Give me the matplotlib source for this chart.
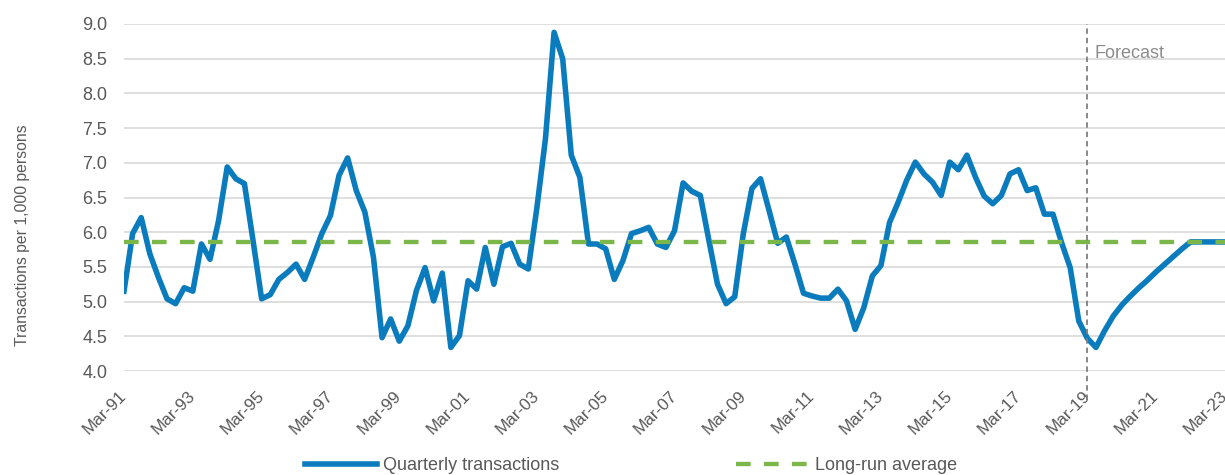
import numpy as np
import matplotlib
matplotlib.use("Agg")
import matplotlib.pyplot as plt

plt.rcParams['font.family'] = ['Liberation Sans', 'DejaVu Sans']

# quarterly transactions per 1,000 persons, Mar-91 .. Mar-23
transactions = [
    5.15, 5.98, 6.21, 5.69, 5.35, 5.04, 4.97, 5.20,
    5.15, 5.83, 5.61, 6.17, 6.94, 6.77, 6.70, 5.88,
    5.04, 5.10, 5.32, 5.42, 5.54, 5.32, 5.64, 5.98,
    6.24, 6.82, 7.07, 6.60, 6.29, 5.64, 4.48, 4.75,
    4.43, 4.65, 5.16, 5.49, 5.01, 5.41, 4.34, 4.51,
    5.30, 5.18, 5.78, 5.25, 5.79, 5.84, 5.54, 5.47,
    6.35, 7.35, 8.88, 8.50, 7.11, 6.79, 5.83, 5.83,
    5.76, 5.32, 5.59, 5.98, 6.02, 6.07, 5.83, 5.78,
    6.02, 6.71, 6.59, 6.53, 5.88, 5.25, 4.97, 5.07,
    5.98, 6.63, 6.77, 6.31, 5.84, 5.93, 5.54, 5.12,
    5.08, 5.05, 5.05, 5.18, 5.01, 4.60, 4.91, 5.37,
    5.52, 6.14, 6.43, 6.75, 7.01, 6.84, 6.72, 6.53,
    7.01, 6.90, 7.11, 6.79, 6.52, 6.41, 6.53, 6.84,
    6.90, 6.60, 6.64, 6.26, 6.26, 5.85, 5.49, 4.72,
    4.47, 4.34, 4.58, 4.79, 4.95, 5.08, 5.20, 5.31,
    5.43, 5.54, 5.65, 5.76, 5.86, 5.86, 5.86, 5.86,
    5.86,
]
long_run_average = 5.86
tick_labels = ['Mar-91', 'Mar-93', 'Mar-95', 'Mar-97', 'Mar-99', 'Mar-01',
               'Mar-03', 'Mar-05', 'Mar-07', 'Mar-09', 'Mar-11', 'Mar-13',
               'Mar-15', 'Mar-17', 'Mar-19', 'Mar-21', 'Mar-23']
forecast_from = 'Mar-19'

grey = '#595959'
blue = '#0A7BBD'
green = '#7AB648'

x = np.arange(len(transactions))
tick_pos = np.arange(len(tick_labels)) * 8

fig = plt.figure(figsize=(12.25, 4.75), dpi=100)
ax = fig.add_axes([124 / 1225, 1 - 371 / 475, 1101 / 1225, 347 / 475])

ax.plot(x, transactions, color=blue, lw=4.0, solid_joinstyle='round',
        label='Quarterly transactions', zorder=3)
ax.plot(x, [long_run_average] * len(x), color=green, lw=3.1,
        dashes=(3.4, 3.1), label='Long-run average', zorder=4)

fx = tick_pos[tick_labels.index(forecast_from)]
ax.axvline(fx, ymin=-0.085, ymax=1.0, color='#7F7F7F', lw=1.3,
           dashes=(3, 2.2), clip_on=False, zorder=5)
ax.text(fx + 0.8, 8.51, 'Forecast', color='#8C8C8C', fontsize=13,
        va='baseline', ha='left')

ax.set_xlim(0, 128)
ax.set_ylim(4, 9)
ax.set_yticks(np.arange(4, 9.01, 0.5))
ax.set_yticklabels([f'{v:.1f}' for v in np.arange(4, 9.01, 0.5)])
ax.set_xticks(tick_pos)
ax.set_xticklabels(tick_labels, rotation=45, ha='right', va='center',
                   rotation_mode='anchor')
ax.tick_params(axis='both', length=0, labelcolor=grey)
ax.tick_params(axis='y', pad=12, labelsize=13)
ax.tick_params(axis='x', pad=16, labelsize=12.3)
ax.grid(axis='y', color='#D9D9D9', lw=1.2)
ax.set_axisbelow(True)
for s in ax.spines.values():
    s.set_visible(False)

fig.text(23 / 1225, 1 - 235 / 475, 'Transactions per 1,000 persons',
         rotation=90, ha='center', va='center', fontsize=11.3, color=grey)

fig.legend(loc='center left', bbox_to_anchor=(305 / 1225, 1 - 466 / 475),
           ncol=2, frameon=False, fontsize=13, labelcolor=grey,
           handlelength=4.0, handletextpad=0.33, columnspacing=9.8,
           borderpad=0, borderaxespad=0)

fig.savefig('out.png', dpi=100)
